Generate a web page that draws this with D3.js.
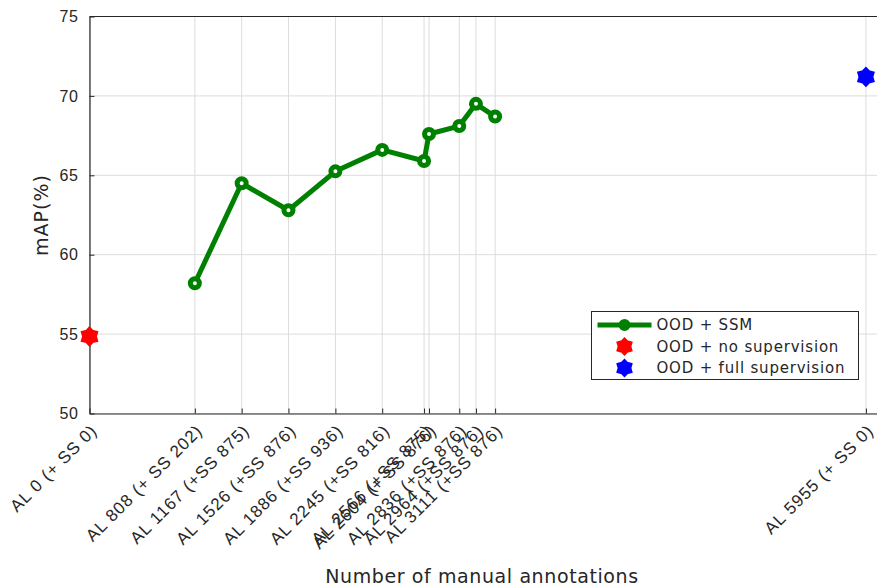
<!DOCTYPE html>
<html>
<head>
<meta charset="utf-8">
<script src="https://cdn.jsdelivr.net/npm/d3@7"></script>
<style>
  html, body { margin: 0; padding: 0; background: #fff; }
  svg { display: block; font-family: "DejaVu Sans", sans-serif; }
</style>
</head>
<body>
<svg id="chart" width="877" height="588"></svg>
<script>
// Active-learning budget (manual annotations) vs. detection mAP
const ssmAnnotations = [808, 1167, 1526, 1886, 2245, 2566, 2604, 2836, 2964, 3111];
const ssmMAP         = [58.2, 64.5, 62.8, 65.25, 66.6, 65.9, 67.6, 68.1, 69.5, 68.7];
const noSupAnnotations = [0];
const noSupMAP         = [54.85];
const fullSupAnnotations = [5955];
const fullSupMAP         = [71.2];

const xTickValues = [0, 808, 1167, 1526, 1886, 2245, 2566, 2604, 2836, 2964, 3111, 5955];
const xTickLabels = [
  "AL 0 (+ SS 0)", "AL 808 (+ SS 202)", "AL 1167 (+SS 875)", "AL 1526 (+SS 876)",
  "AL 1886 (+SS 936)", "AL 2245 (+SS 816)", "AL 2566 (+SS 875)", "AL 2604 (+ SS 876)",
  "AL 2836 (+SS 876)", "AL 2964 (+SS 876)", "AL 3111 (+SS 876)", "AL 5955 (+ SS 0)"
];
const yTickValues = [50, 55, 60, 65, 70, 75];
const seriesNames = ["OOD + SSM", "OOD + no supervision", "OOD + full supervision"];

const svg = d3.select("#chart");
const plotLeft = 89.5, plotTop = 16.5, plotBottom = 413.5, plotRight = 880;
const axisColor = "#262626", gridColor = "#dcdcdc";

const x = d3.scaleLinear().domain([0, 6063]).range([plotLeft, plotRight]);
const y = d3.scaleLinear().domain([50, 75]).range([plotBottom, plotTop]);

// grid
const grid = svg.append("g");
grid.selectAll("line.gx").data(xTickValues).join("line")
  .attr("x1", d => x(d)).attr("x2", d => x(d))
  .attr("y1", plotTop).attr("y2", plotBottom)
  .attr("stroke", gridColor).attr("stroke-width", 1);
grid.selectAll("line.gy").data(yTickValues).join("line")
  .attr("x1", plotLeft).attr("x2", plotRight)
  .attr("y1", d => y(d)).attr("y2", d => y(d))
  .attr("stroke", gridColor).attr("stroke-width", 1);

// axes (ticks point inward)
const xAxis = d3.axisBottom(x).tickValues(xTickValues).tickSize(-5).tickSizeOuter(0)
  .tickFormat((d, i) => xTickLabels[i]);
const gx = svg.append("g").attr("transform", `translate(0,${plotBottom})`).call(xAxis);
gx.select(".domain").attr("stroke", axisColor).attr("stroke-width", 1.2);
gx.selectAll(".tick line").attr("stroke", axisColor);
gx.selectAll(".tick text")
  .attr("fill", axisColor)
  .style("font-size", "17px")
  .style("letter-spacing", "1px")
  .attr("text-anchor", "end")
  .attr("dy", "0.35em")
  .attr("transform", "translate(4,14) rotate(-45)")
  .attr("x", 0).attr("y", 0);

const yAxis = d3.axisLeft(y).tickValues(yTickValues).tickSize(-5).tickSizeOuter(0);
const gy = svg.append("g").attr("transform", `translate(${plotLeft},0)`).call(yAxis);
gy.select(".domain").attr("stroke", axisColor).attr("stroke-width", 1.2);
gy.selectAll(".tick line").attr("stroke", axisColor);
gy.selectAll(".tick text").attr("fill", axisColor).style("font-size", "16px")
  .style("letter-spacing", "0.6px").attr("x", -11);

// top border
svg.append("line").attr("x1", plotLeft).attr("x2", plotRight).attr("y1", plotTop).attr("y2", plotTop)
  .attr("stroke", axisColor).attr("stroke-width", 1.2);

// axis titles
svg.append("text").attr("x", 482).attr("y", 583).attr("text-anchor", "middle")
  .attr("fill", axisColor).style("font-size", "19px").style("letter-spacing", "0.6px")
  .text("Number of manual annotations");
svg.append("text").attr("transform", `translate(48,${(plotTop + plotBottom) / 2}) rotate(-90)`)
  .attr("text-anchor", "middle").attr("fill", axisColor)
  .style("font-size", "19px").style("letter-spacing", "1px").text("mAP(%)");

// hexagram marker
const hexagram = {
  draw(ctx, size) {
    const R = Math.sqrt(size) / 2, r = R * 0.72;
    for (let i = 0; i < 12; i++) {
      const a = Math.PI / 2 + i * Math.PI / 6;
      const rr = i % 2 === 0 ? R : r;
      const px = rr * Math.cos(a), py = -rr * Math.sin(a);
      if (i === 0) ctx.moveTo(px, py); else ctx.lineTo(px, py);
    }
    ctx.closePath();
  }
};
const green = "#008000";

// SSM series
const ssm = ssmAnnotations.map((a, i) => [a, ssmMAP[i]]);
svg.append("path").datum(ssm)
  .attr("d", d3.line().x(d => x(d[0])).y(d => y(d[1])))
  .attr("fill", "none").attr("stroke", green).attr("stroke-width", 5)
  .attr("stroke-linejoin", "round");
svg.selectAll("circle.ssm").data(ssm).join("circle")
  .attr("cx", d => x(d[0])).attr("cy", d => y(d[1])).attr("r", 4.5)
  .attr("fill", "#fff").attr("stroke", green).attr("stroke-width", 5);

function drawStars(ann, vals, color) {
  svg.selectAll(null).data(ann.map((a, i) => [a, vals[i]])).join("path")
    .attr("transform", d => `translate(${x(d[0])},${y(d[1])})`)
    .attr("d", d3.symbol(hexagram, 225)())
    .attr("fill", color).attr("stroke", color).attr("stroke-width", 4)
    .attr("stroke-linejoin", "miter");
}
drawStars(noSupAnnotations, noSupMAP, "#ff0000");
drawStars(fullSupAnnotations, fullSupMAP, "#0000ff");

// legend
const lg = svg.append("g").attr("transform", "translate(591.5,311.5)");
lg.append("rect").attr("width", 267).attr("height", 68)
  .attr("fill", "#fff").attr("stroke", axisColor).attr("stroke-width", 1);
const rowY = [13.5, 35, 56.5];
lg.append("line").attr("x1", 6).attr("x2", 60).attr("y1", rowY[0]).attr("y2", rowY[0])
  .attr("stroke", green).attr("stroke-width", 5);
lg.append("circle").attr("cx", 33).attr("cy", rowY[0]).attr("r", 4.5)
  .attr("fill", green).attr("stroke", green).attr("stroke-width", 3);
[["#ff0000", 1], ["#0000ff", 2]].forEach(([c, i]) => {
  lg.append("path").attr("transform", `translate(33,${rowY[i]})`)
    .attr("d", d3.symbol(hexagram, 180)())
    .attr("fill", c).attr("stroke", c).attr("stroke-width", 4).attr("stroke-linejoin", "miter");
});
lg.selectAll("text").data(seriesNames).join("text")
  .attr("x", 65).attr("y", (d, i) => rowY[i]).attr("dy", "0.35em")
  .attr("fill", axisColor).style("font-size", "15px").style("letter-spacing", "0.8px")
  .text(d => d);
</script>
</body>
</html>
